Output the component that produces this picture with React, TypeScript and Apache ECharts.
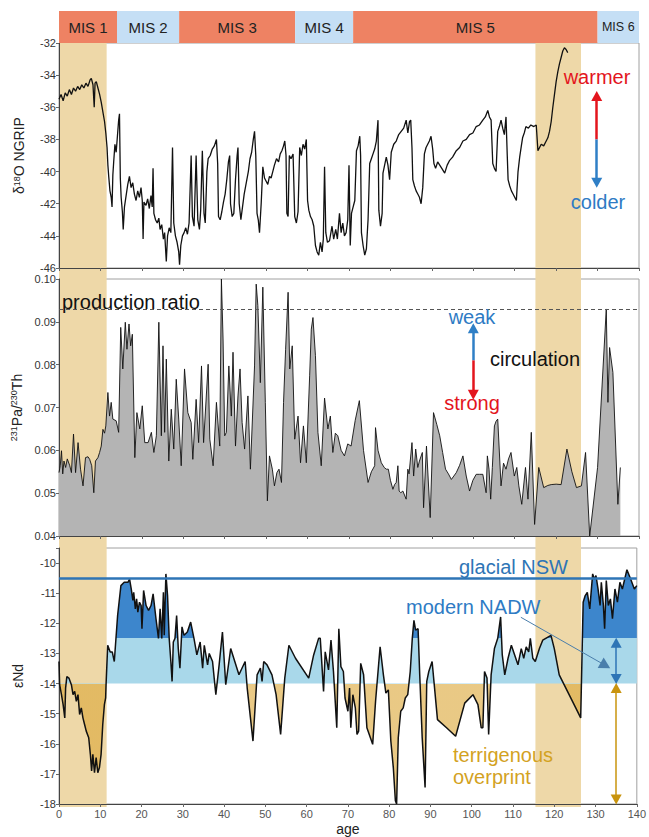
import React, { useEffect, useRef } from "react";
import * as echarts from "echarts";

// ---------------- data ----------------
const misStages = ["MIS 1", "MIS 2", "MIS 3", "MIS 4", "MIS 5", "MIS 6"];
const misBounds = [[0, 14], [14, 29], [29, 57], [57, 71], [71, 130], [130, 140]];
const highlightBands = [[0, 11.5], [115, 126]];
const productionRatio = 0.093;
const glacialNSW = -10.5;
const modernNADW = [-14, -12.5];
const terrigenousRange = [-18, -14];

// NGRIP d18O (age ka, permil)
const ngrip: number[][] = [
  [0, -35.5], [0.5, -35.2], [1, -35.6], [1.5, -35.1], [2, -35.3], [2.5, -34.9], [3, -35.2], [3.5, -34.8],
  [4, -35.0], [4.5, -34.7], [5, -34.9], [5.5, -34.6], [6, -34.8], [6.5, -34.5], [7, -34.7], [7.5, -34.3],
  [7.8, -34.2], [8.2, -34.6], [8.5, -36.0], [8.7, -34.5], [9, -34.4], [9.4, -34.8], [9.8, -35.2], [10.2, -35.7],
  [10.6, -36.3], [11, -36.9], [11.3, -37.6], [11.6, -38.5], [11.8, -39.6], [12, -40.3], [12.3, -41.2], [12.6, -41.6],
  [12.8, -42.2], [13, -40.2], [13.2, -39.4], [13.5, -38.3], [13.8, -38.8], [14.1, -37.8], [14.4, -36.8], [14.6, -36.4],
  [14.8, -40.4], [15, -41.6], [15.3, -42.5], [15.5, -43.6], [15.8, -42.2], [16.2, -41.5], [16.6, -40.8], [17, -40.3],
  [17.4, -41.0], [17.8, -40.7], [18.2, -41.4], [18.6, -41.8], [19, -41.2], [19.4, -41.6], [19.8, -41.0], [20.1, -41.8],
  [20.3, -44.2], [20.5, -41.9], [21, -42.1], [21.4, -41.7], [21.8, -42.3], [22.2, -41.5], [22.5, -42.2], [22.7, -39.8],
  [22.9, -42.6], [23.3, -43.0], [23.7, -43.2], [24.1, -42.9], [24.4, -43.6], [24.8, -43.3], [25.2, -44.2], [25.5, -43.8],
  [25.9, -45.6], [26.2, -44.0], [26.6, -43.5], [27, -43.8], [27.4, -38.5], [27.7, -43.2], [28.1, -44.0], [28.5, -44.4],
  [28.9, -45.0], [29.1, -45.8], [29.4, -44.6], [29.8, -44.0], [30.2, -43.8], [30.6, -43.5], [31, -43.9], [31.4, -43.2],
  [31.9, -39.0], [32.2, -42.8], [32.6, -43.4], [33.1, -39.0], [33.5, -43.0], [33.9, -43.6], [34.2, -42.4], [34.6, -38.7],
  [35, -42.6], [35.3, -43.2], [35.7, -40.0], [36, -39.2], [36.5, -39.0], [37, -38.6], [37.5, -38.4], [38, -38.0],
  [38.3, -39.5], [38.5, -42.8], [38.9, -43.0], [39.3, -42.5], [39.7, -41.9], [40.1, -41.4], [40.5, -40.5], [40.9, -39.4],
  [41.2, -39.0], [41.4, -42.0], [41.8, -42.8], [42.2, -42.6], [42.6, -40.5], [43, -39.0], [43.2, -38.5], [43.5, -42.0],
  [43.9, -43.0], [44.3, -42.2], [44.7, -41.4], [45.2, -40.7], [45.7, -40.0], [46.1, -39.2], [46.5, -38.8], [46.9, -38.0],
  [47.2, -37.5], [47.5, -39.0], [47.8, -42.6], [48.1, -43.0], [48.4, -43.8], [48.8, -42.0], [49.2, -39.7], [49.6, -40.4],
  [50, -40.6], [50.4, -40.8], [50.8, -40.3], [51.2, -40.4], [51.6, -40.0], [52, -39.6], [52.5, -39.2], [53, -39.4],
  [53.4, -38.9], [53.8, -38.7], [54.2, -38.4], [54.5, -38.1], [54.8, -39.0], [55, -42.6], [55.3, -42.8], [55.6, -39.0],
  [56, -39.2], [56.5, -38.9], [56.9, -42.8], [57.3, -43.2], [57.7, -42.5], [58.1, -38.5], [58.5, -39.0], [58.9, -38.3],
  [59.3, -38.6], [59.7, -38.0], [60, -41.8], [60.3, -42.4], [60.7, -42.8], [61.1, -43.0], [61.5, -43.4], [61.9, -44.6],
  [62.3, -45.0], [62.7, -45.2], [63.1, -44.4], [63.5, -45.0], [63.8, -44.2], [64.1, -39.7], [64.4, -43.8], [64.8, -44.4],
  [65.3, -44.3], [65.9, -43.4], [66.3, -44.2], [66.8, -43.6], [67.2, -44.2], [67.7, -42.6], [68.1, -43.8], [68.5, -43.2],
  [68.9, -44.0], [69.3, -43.8], [69.7, -43.0], [70, -39.6], [70.3, -44.6], [70.6, -42.6], [71, -42.2], [71.4, -41.8],
  [71.8, -38.7], [72.2, -38.4], [72.6, -37.8], [72.8, -39.0], [73, -43.8], [73.4, -44.6], [73.8, -45.2], [74.2, -44.8],
  [74.6, -43.0], [75, -39.5], [75.4, -39.2], [75.8, -38.9], [76.2, -38.6], [76.6, -38.1], [77, -36.8], [77.2, -42.4],
  [77.6, -43.4], [78, -42.6], [78.2, -40.1], [78.6, -39.6], [79, -39.1], [79.4, -39.6], [79.8, -40.5], [80.2, -38.8],
  [80.8, -38.3], [81.4, -38.1], [82, -37.7], [82.6, -37.5], [83.2, -37.3], [83.8, -36.8], [84.2, -37.6], [84.6, -36.9],
  [84.9, -36.8], [85.2, -38.5], [85.4, -40.5], [85.8, -40.9], [86.2, -41.2], [86.6, -41.4], [87, -41.6], [87.4, -42.0],
  [87.8, -41.0], [88.2, -38.9], [88.6, -38.5], [89, -38.3], [89.4, -38.1], [89.8, -37.8], [90.2, -38.6], [90.5, -39.5],
  [90.9, -39.8], [91.4, -39.4], [91.9, -39.6], [92.4, -39.8], [93.1, -40.1], [93.7, -39.6], [94.3, -39.3], [95, -39.1],
  [95.9, -38.7], [96.7, -38.5], [97.5, -38.1], [98.3, -38.0], [99.1, -37.7], [99.9, -37.6], [100.7, -37.2], [101.5, -37.1],
  [102.3, -36.8], [102.9, -36.6], [103.5, -36.2], [103.9, -36.6], [104.3, -36.8], [104.7, -39.5], [105.1, -39.8], [105.5, -40.0],
  [105.9, -37.5], [106.3, -37.2], [106.7, -36.8], [107.1, -37.3], [107.5, -37.7], [107.9, -36.6], [108.2, -39.0], [108.4, -40.5],
  [108.8, -40.9], [109.2, -41.2], [109.6, -41.4], [110, -41.6], [110.4, -41.8], [110.8, -40.0], [111.2, -39.1], [111.6, -38.4],
  [111.9, -37.9], [112.3, -37.6], [112.7, -37.2], [113.3, -37.3], [113.9, -37.1], [114.6, -37.2], [115.2, -37.1], [115.6, -38.7],
  [116, -38.5], [116.4, -38.3], [117, -38.4], [117.6, -38.1], [118, -37.9], [118.4, -37.5], [118.8, -36.9], [119.2, -36.0],
  [119.6, -35.2], [120, -34.4], [120.4, -33.8], [120.8, -33.3], [121.2, -32.9], [121.6, -32.5], [122, -32.3], [122.4, -32.4],
  [122.8, -32.6],
];

// 231Pa/230Th
const paTh: number[][] = [
  [0, 0.0548], [0.3, 0.0564], [0.6, 0.0599], [0.9, 0.0545], [1.2, 0.0575], [1.6, 0.056], [2, 0.058], [2.6, 0.0564],
  [3, 0.0548], [3.5, 0.0638], [4, 0.0548], [4.6, 0.0618], [5.2, 0.0556], [5.8, 0.0517], [6.4, 0.0583], [7, 0.0585],
  [7.4, 0.0579], [7.9, 0.0564], [8.4, 0.0501], [8.8, 0.0575], [9.4, 0.0583], [9.8, 0.0595], [10.2, 0.061], [10.6, 0.0649],
  [11, 0.064], [11.3, 0.0657], [11.8, 0.0735], [12.2, 0.068], [12.6, 0.0712], [13, 0.0673], [13.8, 0.0669], [14.4, 0.0642],
  [14.9, 0.0887], [15.4, 0.079], [16, 0.0899], [16.4, 0.0836], [16.9, 0.0895], [17.3, 0.0844], [17.7, 0.0871], [18.3, 0.0583],
  [18.8, 0.0688], [19.5, 0.065], [20.1, 0.0704], [20.7, 0.0618], [21.5, 0.0618], [22.3, 0.0642], [22.9, 0.0595], [23.5, 0.0634],
  [24.1, 0.0899], [24.7, 0.0634], [25.1, 0.0844], [25.5, 0.0642], [25.9, 0.0813], [26.5, 0.0575], [27.1, 0.0696], [27.7, 0.0603],
  [28.3, 0.0766], [28.9, 0.0673], [29.5, 0.0564], [30.3, 0.079], [31.1, 0.0688], [31.9, 0.0665], [32.3, 0.0579], [33.1, 0.0719],
  [33.7, 0.0618], [34.4, 0.0797], [34.9, 0.0618], [36, 0.0801], [36.4, 0.0626], [37.2, 0.0564], [38, 0.0712], [38.8, 0.061],
  [39.2, 0.1], [39.6, 0.086], [40, 0.0634], [40.4, 0.0642], [41, 0.0797], [41.6, 0.068], [42, 0.0829], [42.6, 0.061],
  [43.2, 0.0727], [43.7, 0.079], [44.2, 0.0665], [44.8, 0.0603], [45.6, 0.0727], [46.2, 0.0556], [47.2, 0.0797], [47.6, 0.0988],
  [48, 0.0938], [48.6, 0.0758], [49.2, 0.0981], [49.8, 0.0712], [50.3, 0.0482], [50.8, 0.0587], [51.5, 0.0556], [52, 0.0517],
  [52.6, 0.0548], [53.1, 0.0556], [53.7, 0.0525], [54.2, 0.0712], [54.7, 0.0836], [55.3, 0.0969], [55.7, 0.079], [56.3, 0.0844],
  [56.9, 0.0626], [57.7, 0.068], [58.3, 0.0571], [59, 0.0657], [59.7, 0.0571], [60.5, 0.0774], [60.9, 0.0883], [61.3, 0.091],
  [61.9, 0.0821], [62.5, 0.0642], [63.3, 0.0564], [64.1, 0.0722], [64.9, 0.065], [65.5, 0.068], [66.1, 0.0595], [66.7, 0.064],
  [67.3, 0.0634], [68.1, 0.06], [68.9, 0.0587], [69.7, 0.0615], [70.5, 0.061], [71.5, 0.067], [72.5, 0.0716], [73.5, 0.06],
  [74.6, 0.0525], [75.4, 0.055], [76.2, 0.0564], [76.4, 0.0653], [77, 0.06], [77.8, 0.0571], [78.5, 0.056], [79, 0.0556],
  [79.5, 0.0556], [80, 0.053], [80.6, 0.0509], [81, 0.052], [81.4, 0.0525], [81.8, 0.0564], [82.1, 0.0505], [82.5, 0.0501],
  [83, 0.0505], [83.8, 0.0486], [84.2, 0.0556], [84.5, 0.0545], [85.2, 0.0618], [85.6, 0.054], [86.1, 0.0603], [86.6, 0.056],
  [87, 0.0575], [87.7, 0.0595], [88, 0.0466], [88.7, 0.061], [89.6, 0.0443], [90.4, 0.0688], [91.2, 0.066], [91.9, 0.0634],
  [92.6, 0.0595], [93.3, 0.0556], [94, 0.0545], [94.7, 0.0532], [95.3, 0.054], [95.9, 0.0548], [96.7, 0.0565], [97.5, 0.0587],
  [98.3, 0.054], [99.1, 0.0505], [99.9, 0.053], [100.7, 0.0544], [101.5, 0.0544], [102.3, 0.0544], [103.1, 0.0501], [103.4, 0.0587],
  [103.8, 0.0556], [104.2, 0.0486], [104.6, 0.056], [105.1, 0.0657], [105.5, 0.0668], [105.9, 0.0673], [106.7, 0.0517], [107.3, 0.057],
  [107.9, 0.0556], [108.5, 0.058], [109.1, 0.0595], [109.9, 0.054], [110.5, 0.056], [111, 0.0517], [111.7, 0.0474], [112.6, 0.056],
  [113.2, 0.0486], [114, 0.0642], [114.8, 0.0427], [115.8, 0.056], [117, 0.0513], [118, 0.0518], [118.8, 0.052], [120, 0.0521],
  [121.2, 0.052], [122.6, 0.0603], [123.8, 0.055], [124.9, 0.0513], [126.1, 0.0517], [127.1, 0.0595], [128.1, 0.04], [130, 0.056],
  [132.1, 0.093], [132.5, 0.0712], [132.9, 0.084], [133.7, 0.0782], [134.9, 0.0474], [135.5, 0.056],
];

// eNd
const eNd: number[][] = [
  [0, -13.27], [0.15, -14.04], [0.6, -14.37], [1, -14.7], [1.4, -15.14], [1.6, -14.15], [1.9, -13.77], [2.4, -13.82],
  [3, -14.04], [3.4, -14.37], [3.8, -14.26], [4.2, -14.59], [4.6, -14.37], [5, -15.03], [5.4, -14.81], [5.8, -15.14],
  [6.2, -15.36], [6.6, -15.58], [7.2, -15.8], [7.6, -16.35], [7.9, -16.9], [8.2, -16.35], [8.6, -16.96], [9, -16.46],
  [9.4, -16.96], [9.8, -16.79], [10.2, -16.35], [10.6, -15.36], [11, -14.7], [11.3, -14.48], [11.4, -14.04], [11.6, -13.38],
  [11.8, -12.73], [12.4, -12.95], [12.9, -12.95], [13.4, -13.27], [14.2, -11.74], [15, -10.75], [15.8, -10.64], [16.7, -10.64],
  [17.1, -10.53], [17.5, -10.86], [17.9, -11.24], [18.1, -10.97], [18.5, -11.52], [18.8, -11.19], [19.1, -11.63], [19.5, -11.3],
  [19.9, -11.41], [20.1, -12.18], [20.5, -10.91], [21.1, -11.41], [21.7, -11.57], [22.3, -11.41], [22.8, -11.02], [23.5, -11.85],
  [24.1, -12.5], [24.5, -11.52], [24.9, -12.5], [25.3, -10.97], [25.5, -12.4], [25.9, -10.36], [26.3, -11.08], [26.7, -12.5],
  [27.1, -13.27], [27.4, -13.93], [27.7, -12.62], [28.1, -12.5], [28.5, -11.74], [28.9, -12.84], [29.3, -13.49], [29.8, -12.12],
  [30.3, -12.4], [31.1, -12.29], [31.9, -11.96], [32.7, -12.5], [33.4, -13.05], [34.2, -12.62], [34.8, -13.49], [35.2, -12.73],
  [36, -13.38], [36.4, -13.0], [37.2, -13.27], [38, -14.37], [38.8, -13.38], [39.6, -12.29], [40.4, -14.04], [41.6, -12.84],
  [43.6, -13.71], [45.1, -13.27], [45.6, -14.15], [47, -15.91], [48, -13.71], [48.8, -13.49], [49.2, -13.93], [49.6, -13.27],
  [50.4, -13.38], [51.6, -13.71], [52.6, -14.37], [53.7, -15.69], [54.7, -13.82], [55.7, -12.73], [57.3, -13.16], [60.5, -13.82],
  [61.7, -13.05], [62.9, -12.5], [63.3, -12.5], [64.1, -14.26], [64.5, -12.95], [65.3, -13.55], [65.9, -12.56], [66.5, -13.6],
  [67.3, -15.47], [67.8, -12.18], [68.3, -13.44], [68.9, -13.6], [69.3, -14.48], [70, -14.92], [70.4, -14.15], [70.7, -15.47],
  [71.2, -14.37], [71.8, -14.81], [72.2, -15.69], [72.6, -15.58], [73.1, -13.33], [73.8, -13.71], [74.6, -15.47], [76, -16.02],
  [76.7, -14.59], [77.8, -12.78], [78.6, -13.71], [79.2, -14.32], [79.8, -14.21], [80.4, -15.91], [81, -16.79], [81.5, -17.89],
  [81.8, -18.0], [82.2, -15.8], [82.8, -14.92], [83.4, -14.81], [83.9, -14.48], [84.5, -14.37], [85.1, -13.6], [85.6, -12.5],
  [86, -11.9], [86.4, -12.23], [87, -12.18], [87.4, -13.71], [88, -15.8], [88.7, -17.45], [89.1, -13.93], [89.6, -13.6],
  [90.4, -13.27], [91.7, -15.2], [93.9, -15.47], [96.1, -15.75], [98.3, -14.65], [100.3, -14.37], [101.5, -14.7], [102.3, -15.47],
  [102.7, -15.47], [103.1, -13.6], [103.7, -13.82], [104.1, -15.69], [104.7, -13.71], [105.5, -12.84], [106.3, -12.5], [107, -11.79],
  [107.4, -13.05], [108, -13.71], [108.8, -13.16], [109.6, -12.73], [110.4, -13.05], [111.2, -13.38], [112, -12.84], [112.6, -13.16],
  [113.2, -12.78], [113.8, -12.95], [114.2, -12.5], [114.8, -13.16], [115.4, -13.27], [116.4, -12.84], [117.2, -12.56], [119.2, -12.4],
  [120, -12.84], [121.2, -13.71], [123.2, -14.26], [125.2, -14.81], [126.4, -15.14], [127, -11.3], [127.5, -11.08], [128, -10.97],
  [128.6, -11.52], [129.3, -10.36], [129.7, -10.53], [130.1, -10.42], [130.6, -10.86], [131.1, -11.41], [131.4, -10.64], [131.9, -11.41],
  [132.2, -12.18], [132.6, -10.58], [133.1, -11.41], [133.6, -11.19], [134.1, -11.85], [134.7, -10.86], [135.3, -11.3], [135.9, -10.64],
  [136.5, -10.86], [137.6, -10.22], [138.5, -10.53], [139.4, -10.86], [140, -10.75],
];

// ---------------- style ----------------
const FONT = "'Liberation Sans', Arial, Helvetica, sans-serif";
const BAND = "#eed8a8";
const MIS_WARM = "#ee8263";
const MIS_COLD = "#c5dff5";
const RED = "#e3151d";
const BLUE_TXT = "#2e7bc4";
const NSW = "#2e75b6";
const LIGHT_BLUE = "#a9d8ea";
const DARK_BLUE = "#3d86cc";
const TAN_FILL = "rgba(220,168,58,0.62)";
const GOLD = "#d3a21f";
const GOLD_ARROW = "#c9940e";

const L = 59;
const R = 10;

function arrow(from: number[], to: number[], color: string, both = false, width = 2.5, size: number[] = [11, 10]) {
  return [
    { coord: from, symbol: both ? "triangle" : "none", symbolSize: size, lineStyle: { color, width, type: "solid" } },
    { coord: to, symbol: "triangle", symbolSize: size },
  ];
}

function label(text: string, x: number, y: number, fill: string, align = "left") {
  return {
    type: "text", x, y, z: 100, zlevel: 0, silent: true,
    style: { text, fill, fontSize: 20, fontFamily: FONT, align, verticalAlign: "middle" },
  };
}

export default function App() {
  const ref = useRef<HTMLDivElement>(null);

  useEffect(() => {
    if (!ref.current) return;
    const chart = echarts.init(ref.current, undefined, { renderer: "svg" });

    const hiddenX = (gi: number) => ({
      type: "value", gridIndex: gi, min: 0, max: 140, show: false,
    });
    const panelX = (gi: number, labels: boolean) => ({
      type: "value", gridIndex: gi, min: 0, max: 140, interval: 10,
      axisLine: { show: true, onZero: false, lineStyle: { color: "#444", width: 1 } },
      axisTick: { show: true, length: 3, lineStyle: { color: "#666" } },
      axisLabel: { show: labels, fontSize: 11, color: "#555", margin: 4, fontFamily: FONT },
      splitLine: { show: false },
      ...(labels
        ? { name: "age", nameLocation: "middle", nameGap: 18, nameTextStyle: { fontSize: 14, color: "#222", fontFamily: FONT } }
        : {}),
    });
    const richName = {
      n: { fontSize: 14, color: "#222", fontFamily: FONT },
      s: { fontSize: 9, color: "#222", fontFamily: FONT, verticalAlign: "top" },
    };
    const panelY = (gi: number, min: number, max: number, interval: number, extra: any) => ({
      type: "value", gridIndex: gi, min, max, interval,
      axisLine: { show: true, onZero: false, lineStyle: { color: "#444", width: 1 } },
      axisTick: { show: true, length: 3, lineStyle: { color: "#666" } },
      axisLabel: { fontSize: 11, color: "#333", margin: 3, fontFamily: FONT },
      splitLine: { show: false },
      nameLocation: "middle", nameRotate: 90,
      nameTextStyle: { rich: richName },
      ...extra,
    });

    const option: any = {
      animation: false,
      textStyle: { fontFamily: FONT },
      grid: [
        { left: L, right: R, top: 43, height: 764, show: false },
        { left: L, right: R, top: 11, height: 32, show: false },
        { left: L, right: R, top: 43, height: 225, show: true, borderColor: "#a0a0a0", borderWidth: 1 },
        { left: L, right: R, top: 279, height: 257, show: true, borderColor: "#a0a0a0", borderWidth: 1 },
        { left: L, right: R, top: 548, height: 259, show: true, borderColor: "#a0a0a0", borderWidth: 1 },
      ],
      xAxis: [hiddenX(0), hiddenX(1), panelX(2, false), panelX(3, false), panelX(4, true)],
      yAxis: [
        { type: "value", gridIndex: 0, min: 0, max: 1, show: false },
        { type: "value", gridIndex: 1, min: 0, max: 1, show: false },
        panelY(2, -46, -32, 2, { name: "{n|δ}{s|18}{n|O NGRIP}", nameGap: 33 }),
        panelY(3, 0.04, 0.1, 0.01, {
          name: "{s|231}{n|Pa/}{s|230}{n|Th}", nameGap: 32,
          axisLabel: { fontSize: 11, color: "#333", margin: 3, fontFamily: FONT, formatter: (v: number) => v.toFixed(2) },
        }),
        panelY(4, -18, -9.5, 1, {
          name: "{n|εNd}", nameGap: 34,
          axisLabel: {
            fontSize: 11, color: "#333", margin: 3, fontFamily: FONT,
            formatter: (v: number) => (Math.abs(v - Math.round(v)) > 0.01 ? "" : String(Math.round(v))),
          },
        }),
      ],
      visualMap: [
        {
          type: "piecewise", show: false, seriesIndex: 4, dimension: 1,
          pieces: [
            { lt: modernNADW[0], color: TAN_FILL },
            { gte: modernNADW[0], lt: modernNADW[1], color: LIGHT_BLUE },
            { gte: modernNADW[1], color: DARK_BLUE },
          ],
        },
      ],
      series: [
        {
          type: "line", xAxisIndex: 0, yAxisIndex: 0, data: [[0, -1]], showSymbol: false, silent: true, z: 0,
          lineStyle: { width: 0 },
          markArea: {
            silent: true, z: 0,
            itemStyle: { color: BAND },
            data: highlightBands.map((b) => [{ xAxis: b[0] }, { xAxis: b[1] }]),
          },
        },
        {
          type: "line", xAxisIndex: 1, yAxisIndex: 1, data: [[0, -1]], showSymbol: false, silent: true,
          lineStyle: { width: 0 },
          markArea: {
            silent: true,
            label: { show: true, position: "inside", color: "#222", fontSize: 15, fontFamily: FONT, formatter: "{b}" },
            data: misStages.map((name, i) => [
              {
                name, xAxis: misBounds[i][0],
                itemStyle: { color: i % 2 === 0 ? MIS_WARM : MIS_COLD },
                label: i === 5 ? { fontSize: 12.5 } : undefined,
              },
              { xAxis: misBounds[i][1] },
            ]),
          },
        },
        {
          type: "line", xAxisIndex: 2, yAxisIndex: 2, data: ngrip, showSymbol: false, z: 3,
          lineStyle: { color: "#111", width: 1.3 },
          markLine: {
            silent: true, label: { show: false }, animation: false,
            data: [
              arrow([129.8, -38], [129.8, -35.3], RED),
              arrow([129.8, -38], [129.8, -40.7], "#2f7fc6"),
            ],
          },
        },
        {
          type: "line", xAxisIndex: 3, yAxisIndex: 3, data: paTh, showSymbol: false, z: 3,
          lineStyle: { color: "#111", width: 0.9 },
          areaStyle: { color: "#b4b4b4", opacity: 1, origin: "start" },
          markLine: {
            silent: true, label: { show: false }, symbol: "none",
            data: [
              [
                { coord: [0, productionRatio], symbol: "none", lineStyle: { color: "#555", width: 1, type: [4, 3] } },
                { coord: [140, productionRatio], symbol: "none" },
              ],
              arrow([100, 0.081], [100, 0.0885], "#2f7fc6"),
              arrow([100, 0.081], [100, 0.073], RED),
            ],
          },
        },
        {
          type: "line", xAxisIndex: 4, yAxisIndex: 4, data: eNd, showSymbol: false, z: 3,
          lineStyle: { color: "#111", width: 1.5 },
          areaStyle: { opacity: 1, origin: modernNADW[0] },
          markLine: {
            silent: true, label: { show: false },
            data: [
              [
                { coord: [0, glacialNSW], symbol: "none", lineStyle: { color: NSW, width: 2.5, type: "solid" } },
                { coord: [140, glacialNSW], symbol: "none" },
              ],
              arrow([135, modernNADW[1] - 0.15], [135, modernNADW[0] + 0.15], NSW, true, 1.5),
              arrow([135, terrigenousRange[1] - 0.15], [135, terrigenousRange[0] + 0.15], GOLD_ARROW, true, 1.5),
              arrow([111.9, -11.8], [132.4, -13.4], "#4a7eab", false, 1, [12, 11]),
            ],
          },
        },
      ],
      graphic: {
        elements: [
          label("warmer", 597, 77, RED, "center"),
          label("colder", 598, 202, BLUE_TXT, "center"),
          label("production ratio", 62, 302, "#111"),
          label("weak", 472, 317, BLUE_TXT, "center"),
          label("circulation", 490, 359, "#111"),
          label("strong", 472, 403, RED, "center"),
          label("glacial NSW", 459, 567, NSW),
          label("modern NADW", 406, 607, BLUE_TXT),
          label("terrigenous", 453, 755, GOLD),
          label("overprint", 453, 777, GOLD),
        ],
      },
    };

    chart.setOption(option);
    return () => chart.dispose();
  }, []);

  return (
    <div
      ref={ref}
      style={{ position: "fixed", left: 0, top: 0, width: 649, height: 837, background: "#fff" }}
    />
  );
}
